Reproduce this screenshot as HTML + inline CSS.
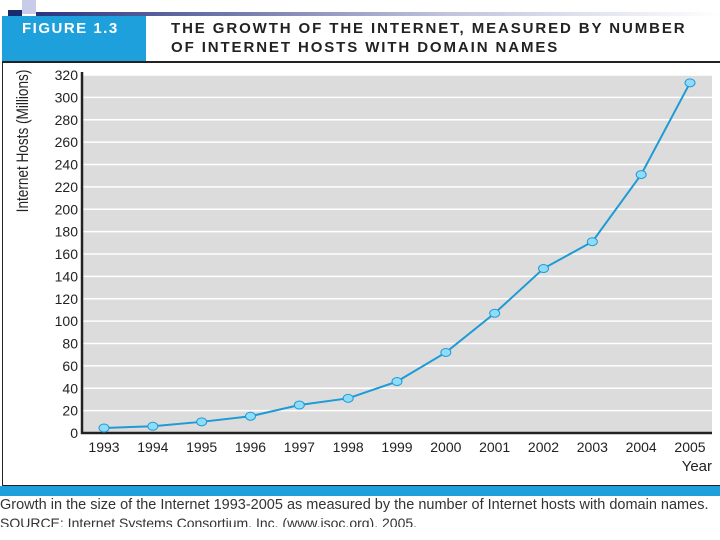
<!DOCTYPE html>
<html><head><meta charset="utf-8"><style>
body{margin:0;width:720px;height:540px;overflow:hidden;background:#fff;font-family:"Liberation Sans",sans-serif;position:relative}
.a{position:absolute}
</style></head><body>
<div class="a" style="left:8px;top:10px;width:14px;height:6px;background:#1a2a6e"></div>
<div class="a" style="left:22px;top:0;width:14px;height:14px;background:#c8cce8"></div>
<div class="a" style="left:36px;top:12px;width:684px;height:4px;background:linear-gradient(90deg,#2a3580,#c0c4dc 60%,#fff)"></div>
<div class="a" style="left:2px;top:16px;width:144px;height:46px;background:#1ea0dc"></div>
<div class="a" style="left:22px;top:20px;color:#fff;font-weight:bold;font-size:15px;letter-spacing:1.5px">FIGURE 1.3</div>
<div class="a" style="left:171px;top:19px;color:#222;font-weight:bold;font-size:15px;letter-spacing:1.9px;line-height:19px;white-space:nowrap">THE GROWTH OF THE INTERNET, MEASURED BY NUMBER<br>OF INTERNET HOSTS WITH DOMAIN NAMES</div>
<div class="a" style="left:2px;top:61px;width:718px;height:2px;background:#222"></div>
<div class="a" style="left:2px;top:62px;width:1px;height:424px;background:#222"></div>
<div class="a" style="left:2px;top:485px;width:718px;height:1px;background:#222"></div>
<div class="a" style="left:0;top:486px;width:720px;height:10px;background:#1ea0dc"></div>
<div class="a" style="left:0;top:497px;font-size:14.5px;color:#333;white-space:nowrap;font-family:'Liberation Sans Narrow','Liberation Sans',sans-serif">Growth in the size of the Internet 1993-2005 as measured by the number of Internet hosts with domain names.</div>
<div class="a" style="left:0;top:515px;height:12px;overflow:hidden;font-size:14px;color:#333;white-space:nowrap;font-family:'Liberation Sans Narrow','Liberation Sans',sans-serif">SOURCE: Internet Systems Consortium, Inc. (www.isoc.org), 2005.</div>
<svg class="a" style="left:0;top:0" width="720" height="540">
<g id="g"></g>
</svg>
<script>
const years=["1993","1994","1995","1996","1997","1998","1999","2000","2001","2002","2003","2004","2005"];
const hosts=[4.5,6,10,15,25,31,46,72,107,147,171,231,313];
const yTicks=[0,20,40,60,80,100,120,140,160,180,200,220,240,260,280,300,320];
const NS="http://www.w3.org/2000/svg";
const g=document.getElementById('g');
const X0=83,X1=712,Y0=433,Y1=75;
const xs=i=>104+i*(690-104)/(years.length-1);
const ys=v=>Y0-(v/320)*(Y0-Y1);
function mk(t,a,p){const e=document.createElementNS(NS,t);for(const k in a)e.setAttribute(k,a[k]);(p||g).appendChild(e);return e;}
let r=mk('rect',{x:X0,y:Y1,width:X1-X0,height:Y0-Y1,fill:'#dcdcdc'});


yTicks.forEach(v=>{
 if(v>0){let l=mk('line',{x1:X0,x2:X1,y1:ys(v),y2:ys(v),stroke:'#fff','stroke-width':1.5});
 
 }
 let t=mk('text',{x:78,y:ys(v)+5,'text-anchor':'end','font-size':14,fill:'#222','font-family':'Liberation Sans'});t.textContent=v;
 
 
});
years.forEach((y,i)=>{let t=mk('text',{x:xs(i),y:452,'text-anchor':'middle','font-size':14,fill:'#222','font-family':'Liberation Sans'});t.textContent=y;
 
 });
let ax=mk('path',{d:`M${X0-1} ${Y1-3}V${Y0}H${X1}`,stroke:'#222','stroke-width':2.5,fill:'none'});


let ln=mk('polyline',{points:hosts.map((v,i)=>xs(i)+','+ys(v)).join(' '),stroke:'#1e9ad6','stroke-width':2,fill:'none'});


hosts.forEach((v,i)=>{let c=mk('ellipse',{cx:xs(i),cy:ys(v),rx:5,ry:4,fill:'#8fdcf8',stroke:'#1e9ad6','stroke-width':1});
 
 });
let yt=mk('text',{x:0,y:0,transform:'translate(28,141) rotate(-90) scale(0.8,1)','text-anchor':'middle','font-size':17,fill:'#222','font-family':'Liberation Sans'});yt.textContent='Internet Hosts (Millions)';


let xt=mk('text',{x:712,y:471,'text-anchor':'end','font-size':15,fill:'#222','font-family':'Liberation Sans'});xt.textContent='Year';


</script>
</body></html>
